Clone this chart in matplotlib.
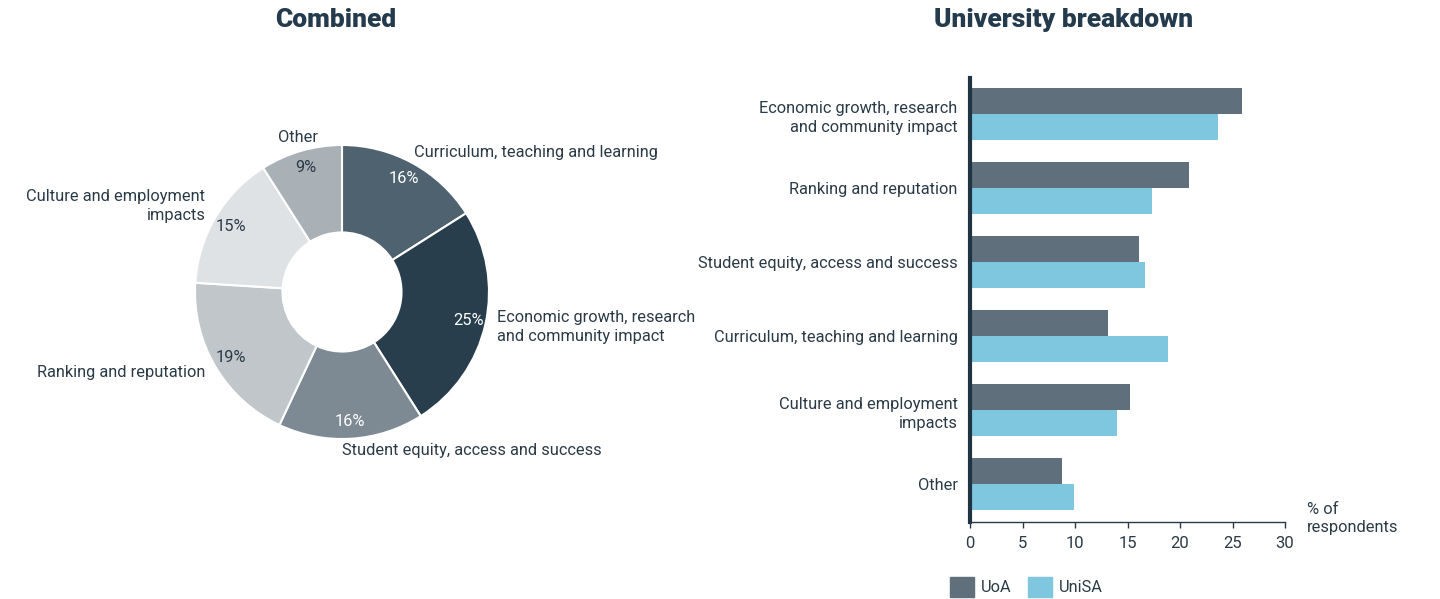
import matplotlib
matplotlib.use("Agg")
import matplotlib.pyplot as plt
import numpy as np
from matplotlib.patches import Patch

plt.rcParams["font.family"] = ["Roboto", "DejaVu Sans"]

TEXT = "#2b3a47"
FS = 11.8

# donut data (clockwise from the top)
pie_labels = [
    "Curriculum, teaching and learning",
    "Economic growth, research\nand community impact",
    "Student equity, access and success",
    "Ranking and reputation",
    "Culture and employment\nimpacts",
    "Other",
]
pie_values = [16, 25, 16, 19, 15, 9]
pie_colors = ["#4f6270", "#283e4d", "#7d8a93", "#c0c6c9", "#dfe2e4", "#a9b1b7"]
pct_colors = ["white", "white", "white", TEXT, TEXT, TEXT]

# bar data
bar_categories = [
    "Economic growth, research\nand community impact",
    "Ranking and reputation",
    "Student equity, access and success",
    "Curriculum, teaching and learning",
    "Culture and employment\nimpacts",
    "Other",
]
uoa = [25.9, 20.9, 16.1, 13.15, 15.2, 8.8]
unisa = [23.6, 17.3, 16.7, 18.85, 14.0, 9.9]
x_ticks = [0, 5, 10, 15, 20, 25, 30]

W, H = 1440, 599
fig = plt.figure(figsize=(W / 100, H / 100), dpi=100)

# ---- donut ----
cx, cy, r = 342, 292, 147
ax1 = fig.add_axes([(cx - r) / W, (H - cy - r) / H, 2 * r / W, 2 * r / H])
wedges, texts, pcts = ax1.pie(
    pie_values, labels=pie_labels, colors=pie_colors, startangle=90,
    counterclock=False, autopct="%d%%", pctdistance=0.88, labeldistance=1.08,
    wedgeprops=dict(width=0.595, edgecolor="white", linewidth=1.5),
    textprops=dict(fontsize=FS, color=TEXT),
)
for t, c in zip(pcts, pct_colors):
    t.set_color(c)
    t.set_fontsize(FS)
for t in texts:
    t.set_linespacing(1.35)
texts[-1].set_ha("center")
texts[2].set_x(texts[2].get_position()[0] - 0.065)
texts[0].set_x(texts[0].get_position()[0] - 0.03)
texts[4].set_y(texts[4].get_position()[1] + 0.035)
texts[5].set_y(texts[5].get_position()[1] + 0.015)
ax1.set_xlim(-1, 1)
ax1.set_ylim(-1, 1)
ax1.set_aspect("equal")
fig.text(336 / W, 1 - 20 / H, "Combined", ha="center", va="center",
         fontsize=19, fontweight="black", color="#243a4d")

# ---- bars ----
ax2 = fig.add_axes([970 / W, (H - 522) / H, 315 / W, 444 / H])
y = np.arange(len(bar_categories))
h = 0.351
ax2.barh(y - h / 2, uoa, height=h, color="#5f707c", label="UoA")
ax2.barh(y + h / 2, unisa, height=h, color="#7fc6df", label="UniSA")
ax2.set_ylim(len(bar_categories) - 0.49, -0.49)
ax2.set_xlim(0, 30)
ax2.set_xticks(x_ticks)
ax2.set_yticks(y)
ax2.set_yticklabels(bar_categories, fontsize=FS, color=TEXT, linespacing=1.35)
for lab in ax2.get_yticklabels():
    lab.set_ha("right")
ax2.tick_params(axis="y", length=0, pad=9)
ax2.tick_params(axis="x", length=4, width=1, color=TEXT, labelsize=12,
                labelcolor=TEXT, pad=6)
for s in ["top", "right"]:
    ax2.spines[s].set_visible(False)
ax2.spines["left"].set_linewidth(3)
ax2.spines["left"].set_color("#1f3342")
ax2.spines["bottom"].set_linewidth(1)
ax2.spines["bottom"].set_color(TEXT)
ax2.text(1.07, 0.008, "% of\nrespondents", transform=ax2.transAxes, ha="left",
         va="center", fontsize=FS, color=TEXT, linespacing=1.3)

fig.text(1064 / W, 1 - 20 / H, "University breakdown", ha="center", va="center",
         fontsize=19, fontweight="black", color="#243a4d")

handles = [Patch(color="#5f707c", label="UoA"), Patch(color="#7fc6df", label="UniSA")]
fig.legend(handles=handles, loc="center left", bbox_to_anchor=(943 / W, 1 - 587 / H),
           ncol=2, frameon=False, fontsize=FS, handlelength=1.5, handleheight=1.5,
           handletextpad=0.4, columnspacing=1.0, labelcolor=TEXT, borderaxespad=0)

fig.savefig("out.png", dpi=100)
